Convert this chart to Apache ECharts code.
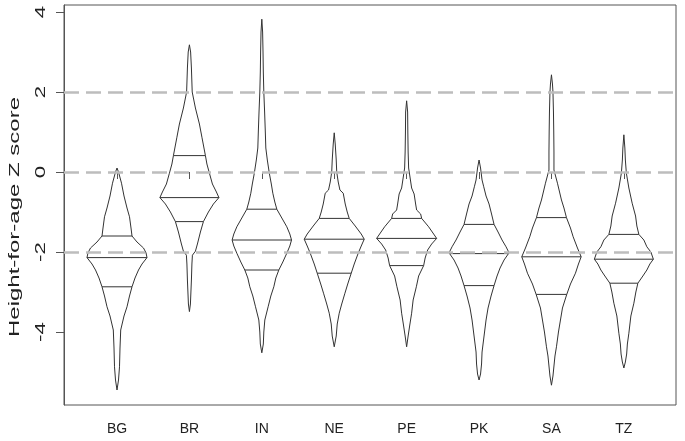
<!DOCTYPE html>
<html>
<head>
<meta charset="utf-8">
<script src="https://cdn.jsdelivr.net/npm/echarts@6/dist/echarts.min.js"></script>
<style>html,body{margin:0;padding:0;background:#fff;}#c{width:685px;height:441px;}</style>
</head>
<body>
<div id="c"></div>
<script>
// Categories (countries)
const categories = ['BG', 'BR', 'IN', 'NE', 'PE', 'PK', 'SA', 'TZ'];
// Y tick labels
const yTicks = [-4, -2, 0, 2, 4];
// Reference lines
const refLines = [2, 0, -2];
const yTitle = 'Height-for-age Z score';

// Bean outlines: Z-score levels (top to bottom) and density half-widths (relative units)
const bgZ = [0.1, 0.0, -0.28, -0.6, -0.9, -1.12, -1.4, -1.6, -1.75, -1.9, -2.02, -2.14, -2.3, -2.45, -2.65, -2.87, -3.1, -3.37, -3.6, -3.95, -4.4, -4.87, -5.2, -5.45];
const bgW = [0, 1.5, 4.5, 7, 10, 12.5, 14, 15, 20, 26.5, 29, 30, 25, 21.5, 18, 15, 12.5, 10, 7, 3.7, 3, 2.5, 1.5, 0];
const brZ = [3.18, 3.0, 2.6, 2.0, 1.6, 1.2, 0.87, 0.41, 0.2, -0.03, -0.3, -0.5, -0.64, -0.8, -1.0, -1.24, -1.5, -1.8, -1.98, -2.08, -2.3, -2.7, -3.0, -3.3, -3.49];
const brW = [0, 1.2, 2, 2.8, 6, 10, 12.5, 16, 17.5, 20, 23, 27, 29.5, 24, 19, 14, 11, 8, 6, 3, 2.5, 2, 1.5, 1, 0];
const inZ = [3.82, 3.5, 3.0, 2.5, 2.0, 1.5, 1.0, 0.6, 0.3, -0.03, -0.3, -0.53, -0.75, -0.93, -1.15, -1.37, -1.55, -1.7, -1.85, -2.03, -2.25, -2.45, -2.65, -2.87, -3.1, -3.37, -3.7, -4.0, -4.3, -4.52];
const inW = [0, 0.8, 1.2, 1.5, 2, 2.8, 3.5, 4, 5.5, 7.5, 9.5, 11, 13, 15, 20, 25, 28, 29.7, 28, 25, 21, 17, 14, 12, 9, 6.3, 3, 2, 1.5, 0];
const neZ = [0.98, 0.7, 0.3, 0.0, -0.25, -0.45, -0.53, -0.8, -1.0, -1.16, -1.35, -1.55, -1.68, -1.85, -2.03, -2.3, -2.53, -2.8, -3.03, -3.3, -3.53, -3.8, -4.1, -4.37];
const neW = [0, 1, 2, 2.5, 4, 5.7, 9, 11, 13, 15, 21, 27, 30, 27, 24, 20, 17, 13.5, 10.7, 7.5, 5, 3, 2, 0];
const peZ = [1.78, 1.5, 1.0, 0.5, 0.1, -0.4, -0.55, -0.8, -0.95, -1.05, -1.16, -1.37, -1.55, -1.66, -1.8, -1.95, -2.15, -2.34, -2.6, -2.87, -3.2, -3.53, -3.85, -4.1, -4.37];
const peW = [0, 1, 1.2, 1.5, 2, 5, 7.5, 9, 10, 14, 15, 22, 27, 30, 25, 21, 18.5, 17, 12, 9.7, 6.5, 5, 3, 1.5, 0];
const pkZ = [0.3, 0.1, -0.2, -0.37, -0.6, -0.8, -1.05, -1.31, -1.5, -1.7, -1.87, -2.02, -2.2, -2.4, -2.6, -2.84, -3.1, -3.4, -3.7, -3.9, -4.2, -4.5, -4.8, -5.05, -5.2];
const pkW = [0, 1.5, 3, 4.7, 7, 10, 12.5, 15, 19, 23, 27, 30, 25, 21, 18, 15, 12, 9, 7, 6, 4.5, 3, 2.5, 1.5, 0];
const saZ = [2.43, 2.2, 2.0, 1.5, 1.0, 0.5, 0.05, -0.28, -0.7, -0.9, -1.14, -1.4, -1.62, -1.9, -2.12, -2.3, -2.53, -2.8, -3.06, -3.4, -3.7, -4.0, -4.37, -4.6, -4.85, -5.1, -5.33];
const saW = [0, 1, 1.5, 2, 2.3, 2.5, 2.5, 6, 10, 12.5, 15, 19, 21.7, 26, 29.7, 27, 24, 19, 15.3, 11, 9, 7, 5, 3.5, 2.5, 1.5, 0];
const tzZ = [0.93, 0.6, 0.3, -0.03, -0.4, -0.78, -1.1, -1.35, -1.56, -1.7, -1.87, -2.0, -2.18, -2.3, -2.45, -2.6, -2.78, -3.0, -3.28, -3.6, -4.03, -4.3, -4.55, -4.75, -4.9];
const tzW = [0, 1, 1.5, 2.5, 5, 8.3, 11.7, 13, 15, 20, 23, 27, 29.5, 26, 23, 19, 14, 12, 10, 7, 5, 3.5, 2.8, 1.5, 0];

// Quartile lines: upper quartile, median, lower quartile
const q75 = [-1.6, 0.41, -0.93, -1.16, -1.16, -1.31, -1.14, -1.56];
const med = [-2.14, -0.64, -1.7, -1.68, -1.66, -2.04, -2.12, -2.18];
const q25 = [-2.87, -1.24, -2.45, -2.53, -2.34, -2.84, -3.06, -2.78];

const beanZ = [bgZ, brZ, inZ, neZ, peZ, pkZ, saZ, tzZ];
const beanW = [bgW, brW, inW, neW, peW, pkW, saW, tzW];
const WSCALE = 72.4; // width units -> x-axis units

function widthAt(zs, ws, z) {
  for (let i = 0; i < zs.length - 1; i++) {
    if (z <= zs[i] && z >= zs[i + 1]) {
      const t = (zs[i] - z) / (zs[i] - zs[i + 1]);
      return ws[i] + t * (ws[i + 1] - ws[i]);
    }
  }
  return 0;
}

const chart = echarts.init(document.getElementById('c'), null, { renderer: 'canvas' });
const FONT = 'Liberation Sans, Arial, sans-serif';

const option = {
  animation: false,
  backgroundColor: '#fff',
  grid: { left: 64, right: 9, top: 5, bottom: 36, show: true, borderColor: '#555', borderWidth: 1, backgroundColor: 'transparent' },
  xAxis: {
    type: 'value', min: 0.268, max: 8.72,
    splitLine: { show: false },
    axisLine: { show: false },
    axisTick: { show: true, length: 7, customValues: [1, 2, 3, 4, 5, 6, 7, 8], lineStyle: { color: '#555' } },
    axisLabel: {
      customValues: [1, 2, 3, 4, 5, 6, 7, 8], margin: 17,
      formatter: v => categories[Math.round(v) - 1] || '',
      color: '#222', fontSize: 14, fontFamily: FONT
    }
  },
  yAxis: {
    type: 'value', min: -5.825, max: 4.175,
    splitLine: { show: false },
    axisLine: { show: true, lineStyle: { color: '#555' } },
    axisTick: { show: true, length: 8, customValues: yTicks, lineStyle: { color: '#555' } },
    axisLabel: { show: false }
  },
  series: [{
    type: 'line', data: [], z: 1,
    markLine: {
      silent: true, symbol: 'none', label: { show: false },
      lineStyle: { color: '#bdbdbd', width: 2.5, type: [15, 7] },
      data: refLines.map(v => ({ yAxis: v }))
    }
  }, {
    type: 'custom', z: 3,
    data: categories.map((c, i) => [i]),
    encode: { x: 0 },
    renderItem: function (params, api) {
      const i = api.value(0);
      const cx = i + 1;
      const zs = beanZ[i], ws = beanW[i];
      const pts = [];
      for (let k = 0; k < zs.length; k++) pts.push(api.coord([cx + ws[k] / WSCALE, zs[k]]));
      for (let k = zs.length - 1; k >= 0; k--) pts.push(api.coord([cx - ws[k] / WSCALE, zs[k]]));
      const children = [{
        type: 'polygon', shape: { points: pts },
        style: { fill: null, stroke: '#333', lineWidth: 1 }
      }];
      [q75[i], med[i], q25[i]].forEach(q => {
        const w = widthAt(zs, ws, q) / WSCALE;
        const a = api.coord([cx - w, q]), b = api.coord([cx + w, q]);
        children.push({ type: 'line', shape: { x1: a[0], y1: a[1], x2: b[0], y2: b[1] }, style: { stroke: '#333', lineWidth: 1 } });
      });
      return { type: 'group', children: children };
    }
  }]
};
chart.setOption(option);

// Vertical (rotated) y tick labels and axis title, stretched along their length as in the reference
const gridLeft = 64, gridTop = 5, gridBottom = 405;
const graphics = yTicks.map(v => ({
  type: 'text',
  x: 41.5,
  y: chart.convertToPixel({ yAxisIndex: 0 }, v),
  rotation: Math.PI / 2,
  scaleX: 1.6,
  style: { text: String(v), font: '14px ' + FONT, fill: '#222', align: 'center', verticalAlign: 'middle' }
}));
graphics.push({
  type: 'text', x: 15, y: 217, rotation: Math.PI / 2, scaleX: 1.6,
  style: { text: yTitle, font: '15px ' + FONT, fill: '#222', align: 'center', verticalAlign: 'middle' }
});
chart.setOption({ graphic: graphics });
</script>
</body>
</html>
